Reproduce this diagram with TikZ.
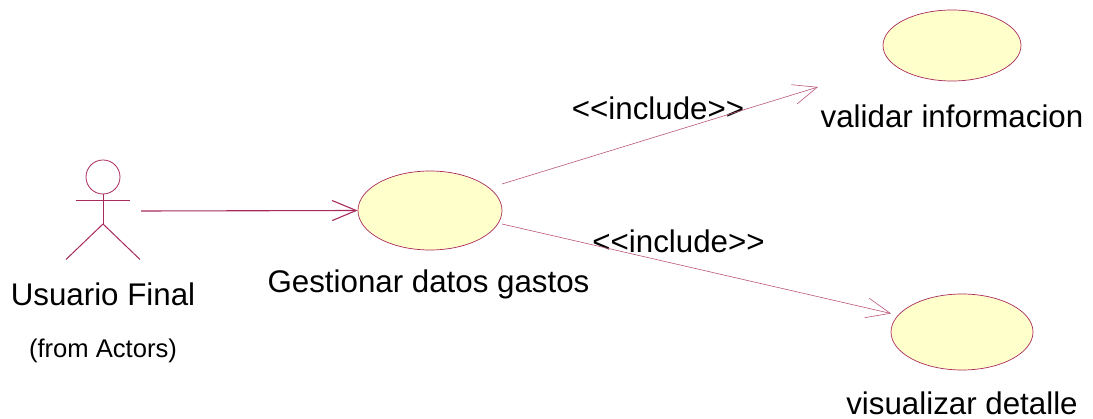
\documentclass[tikz,border=0pt]{standalone}
\usepackage{xcolor}
\usepackage{fontspec}
\setmainfont{Liberation Sans}
\usetikzlibrary{shapes,arrows.meta}
\definecolor{roseline}{HTML}{A82A5C}
\definecolor{usecasefill}{HTML}{FFFFCC}
\tikzstyle{usecase} = [ellipse, draw=roseline, fill=usecasefill, line width=0.7pt, inner sep=0pt]
\tikzstyle{label} = [inner sep=0pt, font=\fontsize{31.3}{31.3}\selectfont]
\tikzstyle{smalllabel} = [inner sep=0pt, font=\fontsize{25.6}{25.6}\selectfont]
\tikzstyle{arrow} = [draw=roseline, -{Straight Barb[length=24pt,width=20pt]}, line width=1.1pt]
\tikzstyle{thinarrow} = [draw=roseline!80, -{Straight Barb[length=24pt,width=20pt]}, line width=0.6pt]
\tikzstyle{line} = [draw=roseline, line width=1pt]

\begin{document}
\begin{tikzpicture}[x=1pt, y=-1pt]
	\useasboundingbox (0,0) rectangle (1093,419);
	% Place nodes
	\node [circle, draw=roseline, line width=0.8pt, minimum size=34pt, inner sep=0pt] (head) at (103,177) {};
	\node [label, below of=head, node distance=117pt] (usuario) {Usuario Final};
	\node [smalllabel, below of=usuario, node distance=56.5pt] (actors) {(from Actors)};
	\node [usecase, minimum width=144pt, minimum height=79pt] (gestionar) at (430,210.5) {};
	\node [label, below of=gestionar, node distance=73.5pt, xshift=-1.5pt] (gestionarlabel) {Gestionar datos gastos};
	\node [usecase, minimum width=138pt, minimum height=71pt] (validar) at (952,45.5) {};
	\node [label, below of=validar, node distance=71pt] (validarlabel) {validar informacion};
	\node [usecase, minimum width=142pt, minimum height=76pt] (visualizar) at (962,332) {};
	\node [label, below of=visualizar, node distance=71pt] (visualizarlabel) {visualizar detalle};
	\node [label] (includeup) at (658,108) {<{}<include>{}>};
	\node [label] (includedown) at (678.5,241) {<{}<include>{}>};
	% Actor and free line ends
	\coordinate (armleft) at (76,201);
	\coordinate (armright) at (130,201);
	\coordinate (hip) at (103,224);
	\coordinate (footleft) at (66,259.5);
	\coordinate (footright) at (140,259.5);
	\coordinate (actorside) at (141,211);
	\coordinate (gestionartop) at (502,184);
	\coordinate (gestionarlow) at (502,224);
	\coordinate (validartip) at (818,87);
	\coordinate (visualizartip) at (891,313.5);
	%
	\path [line] (head) -- (hip);
	\path [line] (armleft) -- (armright);
	\path [line] (footleft) -- (hip) -- (footright);
	\path [arrow] (actorside) -- (gestionar.west);
	\path [thinarrow] (gestionartop) -- (validartip);
	\path [thinarrow] (gestionarlow) -- (visualizartip);
\end{tikzpicture}
\end{document}
